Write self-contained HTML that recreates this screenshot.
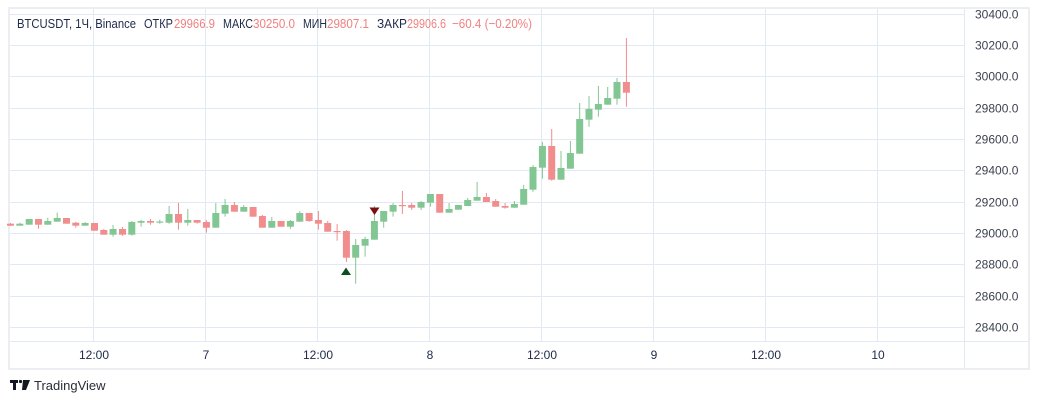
<!DOCTYPE html>
<html><head><meta charset="utf-8"><style>
html,body{margin:0;padding:0;background:#fff;width:1038px;height:404px;overflow:hidden;}
svg text{font-family:"Liberation Sans",sans-serif;}
</style></head><body>
<svg width="1038" height="404" viewBox="0 0 1038 404" xmlns="http://www.w3.org/2000/svg">
<rect x="0" y="0" width="1038" height="404" fill="#fff"/>
<rect x="9" y="8" width="1020" height="361" fill="none" stroke="#eceef2" stroke-width="2"/>
<g stroke="#e1e9f5" stroke-width="1">
<line x1="10" x2="964" y1="14.5" y2="14.5"/>
<line x1="10" x2="964" y1="45.5" y2="45.5"/>
<line x1="10" x2="964" y1="76.5" y2="76.5"/>
<line x1="10" x2="964" y1="108.5" y2="108.5"/>
<line x1="10" x2="964" y1="139.5" y2="139.5"/>
<line x1="10" x2="964" y1="170.5" y2="170.5"/>
<line x1="10" x2="964" y1="202.5" y2="202.5"/>
<line x1="10" x2="964" y1="233.5" y2="233.5"/>
<line x1="10" x2="964" y1="264.5" y2="264.5"/>
<line x1="10" x2="964" y1="296.5" y2="296.5"/>
<line x1="10" x2="964" y1="327.5" y2="327.5"/>
</g>
<g stroke="#e1e9f5" stroke-width="1">
<line x1="93.5" x2="93.5" y1="9" y2="342"/>
<line x1="205.5" x2="205.5" y1="9" y2="342"/>
<line x1="317.5" x2="317.5" y1="9" y2="342"/>
<line x1="429.5" x2="429.5" y1="9" y2="342"/>
<line x1="541.5" x2="541.5" y1="9" y2="342"/>
<line x1="653.5" x2="653.5" y1="9" y2="342"/>
<line x1="765.5" x2="765.5" y1="9" y2="342"/>
<line x1="877.5" x2="877.5" y1="9" y2="342"/>
</g>
<line x1="964.5" x2="964.5" y1="9" y2="369" stroke="#e1e9f5"/>
<line x1="10" x2="1028" y1="341.5" y2="341.5" stroke="#e1e9f5"/>
<g font-size="12" fill="#3d4250" text-anchor="start">
<text x="975" y="18.5">30400.0</text>
<text x="975" y="49.5">30200.0</text>
<text x="975" y="80.5">30000.0</text>
<text x="975" y="112.5">29800.0</text>
<text x="975" y="143.5">29600.0</text>
<text x="975" y="174.5">29400.0</text>
<text x="975" y="206.5">29200.0</text>
<text x="975" y="237.5">29000.0</text>
<text x="975" y="268.5">28800.0</text>
<text x="975" y="300.5">28600.0</text>
<text x="975" y="331.5">28400.0</text>
</g>
<g font-size="12" fill="#1e2a4a" text-anchor="middle">
<text x="94" y="359">12:00</text>
<text x="206" y="359">7</text>
<text x="318" y="359">12:00</text>
<text x="430" y="359">8</text>
<text x="542" y="359">12:00</text>
<text x="654" y="359">9</text>
<text x="766" y="359">12:00</text>
<text x="878" y="359">10</text>
</g>
<g stroke-width="1">
<g fill="#f28d8d" stroke="#f28d8d">
<line x1="10.5" x2="10.5" y1="223" y2="226"/><rect x="7" y="223.7" width="7" height="2" stroke="none"/>
<line x1="38.5" x2="38.5" y1="219" y2="228.7"/><rect x="35" y="219" width="7" height="5.7" stroke="none"/>
<line x1="66.5" x2="66.5" y1="218" y2="223.7"/><rect x="63" y="218" width="7" height="5.7" stroke="none"/>
<line x1="75.8" x2="75.8" y1="221.7" y2="227.7"/><rect x="72.3" y="222.7" width="7" height="3" stroke="none"/>
<line x1="94.5" x2="94.5" y1="223" y2="230.7"/><rect x="91" y="223" width="7" height="7.7" stroke="none"/>
<line x1="103.8" x2="103.8" y1="229" y2="234.7"/><rect x="100.3" y="230" width="7" height="4.7" stroke="none"/>
<line x1="122.5" x2="122.5" y1="227" y2="235.7"/><rect x="119" y="229" width="7" height="5.7" stroke="none"/>
<line x1="150.5" x2="150.5" y1="219" y2="224.7"/><rect x="147" y="221" width="7" height="1.7" stroke="none"/>
<line x1="178.5" x2="178.5" y1="203" y2="229.7"/><rect x="175" y="214" width="7" height="8.7" stroke="none"/>
<line x1="197.1" x2="197.1" y1="220" y2="223.7"/><rect x="193.6" y="220" width="7" height="2.7" stroke="none"/>
<line x1="206.4" x2="206.4" y1="220" y2="232.7"/><rect x="202.9" y="222" width="7" height="5.7" stroke="none"/>
<line x1="234.4" x2="234.4" y1="202" y2="211.7"/><rect x="230.9" y="205" width="7" height="6.7" stroke="none"/>
<line x1="253.1" x2="253.1" y1="207" y2="216.7"/><rect x="249.6" y="207" width="7" height="9.7" stroke="none"/>
<line x1="262.4" x2="262.4" y1="215" y2="227.7"/><rect x="258.9" y="216" width="7" height="11.7" stroke="none"/>
<line x1="281.1" x2="281.1" y1="221" y2="226.7"/><rect x="277.6" y="221" width="7" height="5.7" stroke="none"/>
<line x1="309.1" x2="309.1" y1="213" y2="222"/><rect x="305.6" y="213" width="7" height="8" stroke="none"/>
<line x1="318.4" x2="318.4" y1="211" y2="229.7"/><rect x="314.9" y="220" width="7" height="3.7" stroke="none"/>
<line x1="327.7" x2="327.7" y1="221" y2="231.7"/><rect x="324.2" y="223" width="7" height="8.7" stroke="none"/>
<line x1="337.1" x2="337.1" y1="224" y2="240.7"/><rect x="333.6" y="231" width="7" height="1.2" stroke="none"/>
<line x1="346.4" x2="346.4" y1="230" y2="262"/><rect x="342.9" y="231" width="7" height="26.7" stroke="none"/>
<line x1="402.4" x2="402.4" y1="191" y2="214"/><rect x="398.9" y="205" width="7" height="1.2" stroke="none"/>
<line x1="411.7" x2="411.7" y1="203" y2="210"/><rect x="408.2" y="205" width="7" height="2.7" stroke="none"/>
<line x1="439.7" x2="439.7" y1="194" y2="212.7"/><rect x="436.2" y="194" width="7" height="18.7" stroke="none"/>
<line x1="486.4" x2="486.4" y1="193" y2="202"/><rect x="482.9" y="197" width="7" height="5" stroke="none"/>
<line x1="495.7" x2="495.7" y1="199" y2="206.7"/><rect x="492.2" y="201" width="7" height="5.7" stroke="none"/>
<line x1="505.1" x2="505.1" y1="203" y2="208.7"/><rect x="501.6" y="206" width="7" height="1.7" stroke="none"/>
<line x1="551.7" x2="551.7" y1="129" y2="180.7"/><rect x="548.2" y="146" width="7" height="33.7" stroke="none"/>
<line x1="626.4" x2="626.4" y1="38" y2="106.7"/><rect x="622.9" y="82" width="7" height="10.7" stroke="none"/>
</g>
<g fill="#82c793" stroke="#82c793">
<line x1="19.8" x2="19.8" y1="222.7" y2="225.7"/><rect x="16.3" y="223.7" width="7" height="2" stroke="none"/>
<line x1="29.2" x2="29.2" y1="219" y2="224.7"/><rect x="25.7" y="219" width="7" height="5.7" stroke="none"/>
<line x1="47.8" x2="47.8" y1="217.7" y2="224.7"/><rect x="44.3" y="221" width="7" height="3.7" stroke="none"/>
<line x1="57.2" x2="57.2" y1="212.7" y2="221.7"/><rect x="53.7" y="218" width="7" height="3.7" stroke="none"/>
<line x1="85.1" x2="85.1" y1="222" y2="225.7"/><rect x="81.6" y="223" width="7" height="2.7" stroke="none"/>
<line x1="113.1" x2="113.1" y1="225" y2="236.7"/><rect x="109.6" y="229" width="7" height="5.7" stroke="none"/>
<line x1="131.8" x2="131.8" y1="221" y2="235.7"/><rect x="128.3" y="222" width="7" height="12.7" stroke="none"/>
<line x1="141.1" x2="141.1" y1="219.7" y2="226.7"/><rect x="137.6" y="221" width="7" height="1.7" stroke="none"/>
<line x1="159.8" x2="159.8" y1="219.7" y2="223.7"/><rect x="156.3" y="221.5" width="7" height="1.2" stroke="none"/>
<line x1="169.1" x2="169.1" y1="206" y2="223.7"/><rect x="165.6" y="214" width="7" height="8.7" stroke="none"/>
<line x1="187.8" x2="187.8" y1="209" y2="225.7"/><rect x="184.3" y="220" width="7" height="2.7" stroke="none"/>
<line x1="215.8" x2="215.8" y1="203" y2="227.7"/><rect x="212.3" y="213" width="7" height="14.7" stroke="none"/>
<line x1="225.1" x2="225.1" y1="199" y2="216.7"/><rect x="221.6" y="205" width="7" height="8.7" stroke="none"/>
<line x1="243.8" x2="243.8" y1="205" y2="211.7"/><rect x="240.3" y="207" width="7" height="4.7" stroke="none"/>
<line x1="271.8" x2="271.8" y1="217" y2="227.7"/><rect x="268.3" y="221" width="7" height="6.7" stroke="none"/>
<line x1="290.4" x2="290.4" y1="220" y2="228.7"/><rect x="286.9" y="221" width="7" height="5.7" stroke="none"/>
<line x1="299.8" x2="299.8" y1="211" y2="221.7"/><rect x="296.3" y="213" width="7" height="8.7" stroke="none"/>
<line x1="355.7" x2="355.7" y1="239" y2="283.7"/><rect x="352.2" y="245" width="7" height="12.7" stroke="none"/>
<line x1="365.1" x2="365.1" y1="236.7" y2="256.7"/><rect x="361.6" y="239" width="7" height="6.7" stroke="none"/>
<line x1="374.4" x2="374.4" y1="206" y2="239.7"/><rect x="370.9" y="221" width="7" height="18.7" stroke="none"/>
<line x1="383.7" x2="383.7" y1="211" y2="227.7"/><rect x="380.2" y="211" width="7" height="10.7" stroke="none"/>
<line x1="393.1" x2="393.1" y1="203" y2="216.7"/><rect x="389.6" y="205" width="7" height="6.7" stroke="none"/>
<line x1="421.1" x2="421.1" y1="201" y2="210"/><rect x="417.6" y="202" width="7" height="5.7" stroke="none"/>
<line x1="430.4" x2="430.4" y1="194" y2="206.7"/><rect x="426.9" y="194" width="7" height="8.7" stroke="none"/>
<line x1="449.1" x2="449.1" y1="203" y2="212.7"/><rect x="445.6" y="209" width="7" height="3.7" stroke="none"/>
<line x1="458.4" x2="458.4" y1="205" y2="209.7"/><rect x="454.9" y="205" width="7" height="4.7" stroke="none"/>
<line x1="467.7" x2="467.7" y1="198" y2="206"/><rect x="464.2" y="200" width="7" height="6" stroke="none"/>
<line x1="477.1" x2="477.1" y1="182" y2="200.7"/><rect x="473.6" y="197" width="7" height="3.7" stroke="none"/>
<line x1="514.4" x2="514.4" y1="201" y2="207.7"/><rect x="510.9" y="204" width="7" height="3.7" stroke="none"/>
<line x1="523.7" x2="523.7" y1="185" y2="204.7"/><rect x="520.2" y="189" width="7" height="15.7" stroke="none"/>
<line x1="533" x2="533" y1="165" y2="191.7"/><rect x="529.5" y="167" width="7" height="22.7" stroke="none"/>
<line x1="542.4" x2="542.4" y1="142" y2="178.7"/><rect x="538.9" y="146" width="7" height="21.7" stroke="none"/>
<line x1="561" x2="561" y1="151" y2="179.7"/><rect x="557.5" y="168" width="7" height="11.7" stroke="none"/>
<line x1="570.4" x2="570.4" y1="141" y2="168.7"/><rect x="566.9" y="153" width="7" height="15.7" stroke="none"/>
<line x1="579.7" x2="579.7" y1="103" y2="153.7"/><rect x="576.2" y="119" width="7" height="34.7" stroke="none"/>
<line x1="589" x2="589" y1="96" y2="126.7"/><rect x="585.5" y="109" width="7" height="10.7" stroke="none"/>
<line x1="598.4" x2="598.4" y1="86" y2="116.7"/><rect x="594.9" y="104" width="7" height="5.7" stroke="none"/>
<line x1="607.7" x2="607.7" y1="87" y2="104.7"/><rect x="604.2" y="98" width="7" height="6.7" stroke="none"/>
<line x1="617" x2="617" y1="78" y2="104.7"/><rect x="613.5" y="82" width="7" height="16.7" stroke="none"/>
</g>
</g>
<polygon points="346,267.5 341,275 351,275" fill="#0d4d1e"/>
<polygon points="369.5,207.5 379.5,207.5 374.5,215" fill="#7a1010"/>
<g font-size="13">
<text x="17" y="28" fill="#1e2a4a" textLength="119" lengthAdjust="spacingAndGlyphs">BTCUSDT, 1Ч, Binance</text>
<text x="144" y="28" fill="#1e2a4a" textLength="29" lengthAdjust="spacingAndGlyphs">ОТКР</text>
<text x="174" y="28" fill="#f08080" textLength="41" lengthAdjust="spacingAndGlyphs">29966.9</text>
<text x="223" y="28" fill="#1e2a4a" textLength="30" lengthAdjust="spacingAndGlyphs">МАКС</text>
<text x="253" y="28" fill="#f08080" textLength="42" lengthAdjust="spacingAndGlyphs">30250.0</text>
<text x="303" y="28" fill="#1e2a4a" textLength="24" lengthAdjust="spacingAndGlyphs">МИН</text>
<text x="327" y="28" fill="#f08080" textLength="42" lengthAdjust="spacingAndGlyphs">29807.1</text>
<text x="377" y="28" fill="#1e2a4a" textLength="30" lengthAdjust="spacingAndGlyphs">ЗАКР</text>
<text x="407" y="28" fill="#f08080" textLength="39" lengthAdjust="spacingAndGlyphs">29906.6</text>
<text x="452" y="28" fill="#f08080" textLength="80" lengthAdjust="spacingAndGlyphs">−60.4 (−0.20%)</text>
</g>
<g fill="#131722">
<rect x="10" y="380" width="8" height="3"/>
<rect x="13" y="380" width="3" height="10"/>
<circle cx="20.5" cy="381.5" r="1.6"/>
<polygon points="23,380 30,380 26,390 22,390"/>
</g>
<text x="34" y="390" font-size="13" fill="#2a2e39">TradingView</text>
</svg>
</body></html>
